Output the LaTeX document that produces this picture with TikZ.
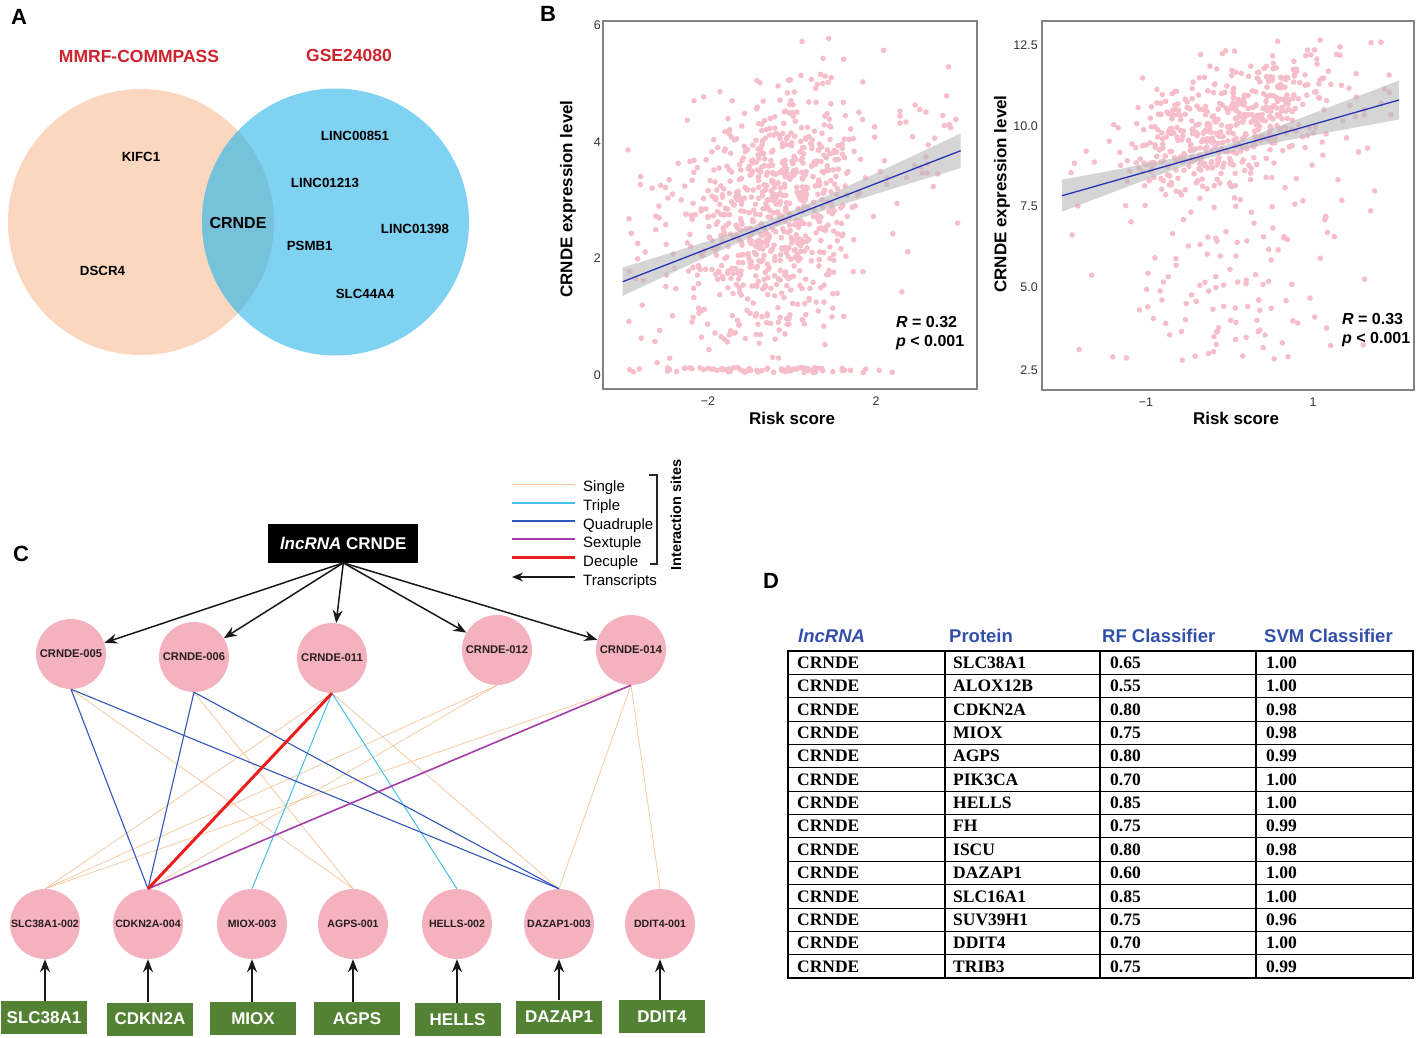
\documentclass[tikz,border=0pt]{standalone}
\usepackage{fontspec}
\setmainfont{Liberation Sans}
\newfontfamily\tnr{Liberation Serif}
\usetikzlibrary{arrows.meta}
\newcommand\myfs[1]{\fontsize{#1}{#1}\selectfont}
\definecolor{peach}{RGB}{250,215,190}
\definecolor{vblue}{RGB}{128,210,242}
\definecolor{vover}{RGB}{118,194,218}
\definecolor{vred}{RGB}{205,35,45}
\definecolor{dotpink}{RGB}{246,190,203}
\definecolor{nodepink}{RGB}{244,177,190}
\definecolor{gframe}{RGB}{130,130,130}
\definecolor{bandgray}{RGB}{185,185,185}
\definecolor{regblue}{RGB}{40,50,180}
\definecolor{eorange}{RGB}{246,196,152}
\definecolor{eblue}{RGB}{50,85,185}
\definecolor{ecyan}{RGB}{70,190,235}
\definecolor{epurple}{RGB}{165,60,170}
\definecolor{ered}{RGB}{235,30,30}
\definecolor{ggreen}{RGB}{84,130,53}
\definecolor{hblue}{RGB}{50,80,170}
\definecolor{ntext}{RGB}{40,30,30}
\tikzset{
  panel/.style={font=\myfs{22}\bfseries},
  vlab/.style={font=\myfs{13.3}\bfseries},
  vhead/.style={font=\myfs{17.5}\bfseries, text=vred},
  tnode/.style={circle, fill=nodepink, minimum size=70pt, inner sep=0pt, font=\myfs{11.2}\bfseries, text=ntext},
  bnode/.style={tnode, font=\myfs{10.6}\bfseries},
  gbox/.style={fill=ggreen, text=white, minimum width=86pt, minimum height=33pt, inner sep=0pt, font=\myfs{17}\bfseries},
  tarrow/.style={-{Stealth[length=13pt,width=10pt]}, line width=1.5pt, black!90},
  lnkone/.style={eorange, line width=0.7pt},
  lnkthree/.style={ecyan, line width=1pt},
  lnkfour/.style={eblue, line width=1.1pt},
  lnksix/.style={epurple, line width=1.6pt},
  lnkten/.style={ered, line width=3pt},
  legtxt/.style={anchor=west, font=\myfs{15}, inner sep=0pt},
  tick/.style={font=\myfs{12.5}, text=black!80, inner sep=0pt},
  axlab/.style={font=\myfs{17}\bfseries},
  stat/.style={anchor=west, font=\myfs{16}\bfseries, inner sep=0pt},
  frame/.style={gframe, line width=2.5pt},
  hdr/.style={anchor=west, font=\myfs{18.5}\bfseries, text=hblue, inner sep=0pt},
  cellt/.style={anchor=west, font=\tnr\myfs{17.5}\bfseries, inner sep=0pt},
}
\begin{document}
\begin{tikzpicture}[x=1pt,y=-1pt]
\useasboundingbox (0,0) rectangle (1417,1037);

% ================= Panel A =================
\node[panel] (pA) at (19,17) {A};
\fill[peach] (141,222) circle[radius=133pt];
\fill[vblue] (335.5,222) circle[radius=133.5pt];
\begin{scope}
  \clip (141,222) circle[radius=133pt];
  \fill[vover] (335.5,222) circle[radius=133.5pt];
\end{scope}
\node[vhead] (hmm) at (139,56) {MMRF-COMMPASS};
\node[vhead] (hgse) at (349,55) {GSE24080};
\node[vlab] (vk) at (141,157) {KIFC1};
\node[vlab] (vd) at (102.5,271) {DSCR4};
\node[font=\myfs{16}\bfseries] (vc) at (238,223) {CRNDE};
\node[vlab] (v851) at (355,136) {LINC00851};
\node[vlab] (v1213) at (325,183) {LINC01213};
\node[vlab] (v1398) at (415,229) {LINC01398};
\node[vlab] (vps) at (309.7,246) {PSMB1};
\node[vlab] (vslc) at (365,294) {SLC44A4};

% ================= Panel B left =================
\node[panel] (pB) at (548,14) {B};
\pgfmathsetseed{20}
\begin{scope}
  \clip (604.5,22.5) rectangle (975.5,387.5);
  \foreach \i in {1,...,850}{
    \pgfmathsetmacro\myr{rnd}
    \ifdim\myr pt<0.86pt
      \pgfmathsetmacro\mpx{772+42*(rand+rand+rand)}
    \else
      \pgfmathsetmacro\mpx{622+340*rnd}
    \fi
    \pgfmathsetmacro\mpy{275-0.3876*(\mpx-622.7)+60*(rand+rand+rand)}
    \ifdim\mpy pt>368pt \pgfmathsetmacro\mpy{370+2.5*rand}\fi
    \ifdim\mpy pt<38pt \pgfmathsetmacro\mpy{38+8*rnd}\fi
    \fill[dotpink] (\mpx,\mpy) circle[radius=2.8pt];
  }
  \foreach \i in {1,...,80}{
    \pgfmathsetmacro\mpx{770+48*(rand+rand+rand)}
    \pgfmathsetmacro\mpy{370+2.5*rand}
    \fill[dotpink] (\mpx,\mpy) circle[radius=2.8pt];
  }
  \fill[bandgray, opacity=0.6]
    plot[domain=622.7:960.7, samples=41] (\x,{281.7-0.3876*(\x-622.7)-sqrt(25+78*((\x-773)/100)^2)})
    -- plot[domain=960.7:622.7, samples=41] (\x,{281.7-0.3876*(\x-622.7)+sqrt(25+78*((\x-773)/100)^2)})
    -- cycle;
  \draw[regblue, line width=1.3pt] (622.7,281.7) -- (960.7,150.7);
\end{scope}
\draw[frame] (603,21) rectangle (977,389);
\node[tick, anchor=east] (ly6) at (601,25) {6};
\node[tick, anchor=east] (ly4) at (601,142) {4};
\node[tick, anchor=east] (ly2) at (601,258) {2};
\node[tick, anchor=east] (ly0) at (601,375) {0};
\node[tick] (lxm2) at (708,401) {−2};
\node[tick] (lx2) at (876,401) {2};
\node[axlab] (lxl) at (792,418) {Risk score};
\node[axlab, rotate=90] (lyl) at (568,199) {CRNDE expression level};
\node[stat] (lR) at (896,322) {\textit{R} = 0.32};
\node[stat] (lP) at (896,343) {\textit{p} < 0.001};

% ================= Panel B right =================
\begin{scope}
  \clip (1043.5,22.5) rectangle (1412.5,388.5);
  \foreach \i in {1,...,650}{
    \pgfmathsetmacro\myr{rnd}
    \ifdim\myr pt<0.86pt
      \pgfmathsetmacro\mpx{1235+52*(rand+rand+rand)}
    \else
      \pgfmathsetmacro\mpx{1062+340*rnd}
    \fi
    \pgfmathsetmacro\myr{rnd}
    \ifdim\myr pt<0.8pt
      \pgfmathsetmacro\mpy{195.7-0.284*(\mpx-1062)-20+30*(rand+rand+rand)}
    \else
      \pgfmathsetmacro\mpy{160+205*rnd}
    \fi
    \ifdim\mpy pt<40pt \pgfmathsetmacro\mpy{40+8*rnd}\fi
    \fill[dotpink] (\mpx,\mpy) circle[radius=2.8pt];
  }
  \fill[bandgray, opacity=0.6]
    plot[domain=1062:1399, samples=41] (\x,{195.7-0.284*(\x-1062)-sqrt(16+105*((\x-1213)/100)^2)})
    -- plot[domain=1399:1062, samples=41] (\x,{195.7-0.284*(\x-1062)+sqrt(16+105*((\x-1213)/100)^2)})
    -- cycle;
  \draw[regblue, line width=1.3pt] (1062,195.7) -- (1399,100);
\end{scope}
\draw[frame] (1042,21) rectangle (1414,390);
\node[tick, anchor=east] (ry125) at (1038,45) {12.5};
\node[tick, anchor=east] (ry100) at (1038,126) {10.0};
\node[tick, anchor=east] (ry75) at (1038,206) {7.5};
\node[tick, anchor=east] (ry50) at (1038,287) {5.0};
\node[tick, anchor=east] (ry25) at (1038,370) {2.5};
\node[tick] (rxm1) at (1146,402) {−1};
\node[tick] (rx1) at (1313,402) {1};
\node[axlab] (rxl) at (1236,418) {Risk score};
\node[axlab, rotate=90] (ryl) at (1002,194) {CRNDE expression level};
\node[stat] (rR) at (1342,319) {\textit{R} = 0.33};
\node[stat] (rP) at (1342,340) {\textit{p} < 0.001};

% ================= Panel C =================
\node[panel] (pC) at (21,554) {C};
\node[fill=black, text=white, minimum width=150pt, minimum height=38.7pt, inner sep=0pt,
      font=\myfs{17}\bfseries] (box) at (343.3,543.3) {\textit{lncRNA} CRNDE};

\node[tnode] (t005) at (71,654) {CRNDE-005};
\node[tnode] (t006) at (194,657) {CRNDE-006};
\node[tnode] (t011) at (332,658) {CRNDE-011};
\node[tnode] (t012) at (497,650) {CRNDE-012};
\node[tnode] (t014) at (631,650) {CRNDE-014};

\node[bnode] (b1) at (45,924) {SLC38A1-002};
\node[bnode] (b2) at (148,924) {CDKN2A-004};
\node[bnode] (b3) at (252,924) {MIOX-003};
\node[bnode] (b4) at (353,924) {AGPS-001};
\node[bnode] (b5) at (457,924) {HELLS-002};
\node[bnode] (b6) at (559,924) {DAZAP1-003};
\node[bnode] (b7) at (660,924) {DDIT4-001};

\node[gbox] (g1) at (44,1017.5) {SLC38A1};
\node[gbox] (g2) at (150,1019) {CDKN2A};
\node[gbox] (g3) at (253,1018.5) {MIOX};
\node[gbox] (g4) at (357,1018.5) {AGPS};
\node[gbox] (g5) at (457.5,1019.5) {HELLS};
\node[gbox] (g6) at (559,1017) {DAZAP1};
\node[gbox] (g7) at (662,1016.5) {DDIT4};

\foreach \t in {t005,t006,t011,t012,t014}
  \draw[tarrow] (box.south) -- (\t);
\foreach \k in {1,...,7}
  \draw[tarrow] (g\k.north -| b\k.south) -- (b\k.south);

% interaction edges
\draw[lnkone] (t005.south) -- (b4.north);
\draw[lnkone] (t006.south) -- (b4.north);
\draw[lnkone] (t011.south) -- (b1.north);
\draw[lnkone] (t011.south) -- (b6.north);
\draw[lnkone] (t012.south) -- (b1.north);
\draw[lnkone] (t012.south) -- (b2.north);
\draw[lnkone] (t014.south) -- (b1.north);
\draw[lnkone] (t014.south) -- (b6.north);
\draw[lnkone] (t014.south) -- (b7.north);
\draw[lnkthree] (t011.south) -- (b3.north);
\draw[lnkthree] (t011.south) -- (b5.north);
\draw[lnkfour] (t005.south) -- (b2.north);
\draw[lnkfour] (t005.south) -- (b6.north);
\draw[lnkfour] (t006.south) -- (b2.north);
\draw[lnkfour] (t006.south) -- (b6.north);
\draw[lnksix] (t014.south) -- (b2.north);
\draw[lnkten] (t011.south) -- (b2.north);

% legend
\coordinate (l1a) at (512,484); \coordinate (l1b) at (575,484);
\coordinate (l2a) at (512,503); \coordinate (l2b) at (575,503);
\coordinate (l3a) at (512,521); \coordinate (l3b) at (575,521);
\coordinate (l4a) at (512,539); \coordinate (l4b) at (575,539);
\coordinate (l5a) at (512,557); \coordinate (l5b) at (575,557);
\coordinate (l6a) at (512,577); \coordinate (l6b) at (575,577);
\draw[lnkone, line width=1pt] (l1a) -- (l1b);
\draw[lnkthree, line width=1.2pt] (l2a) -- (l2b);
\draw[lnkfour, line width=1.3pt] (l3a) -- (l3b);
\draw[lnksix] (l4a) -- (l4b);
\draw[lnkten] (l5a) -- (l5b);
\draw[-{Stealth[length=11pt,width=9pt]}, line width=1.4pt, black!90] (l6b) -- (l6a);
\node[legtxt] (ls1) at (583,488) {Single};
\node[legtxt] (ls2) at (583,507) {Triple};
\node[legtxt] (ls3) at (583,526) {Quadruple};
\node[legtxt] (ls4) at (583,544) {Sextuple};
\node[legtxt] (ls5) at (583,563) {Decuple};
\node[legtxt] (ls6) at (583,582) {Transcripts};
\coordinate (bk1) at (649,475); \coordinate (bk2) at (657,475);
\coordinate (bk3) at (657,564); \coordinate (bk4) at (650,564);
\draw[line width=1.2pt, black!85] (bk1) -- (bk2) -- (bk3) -- (bk4);
\node[rotate=90, font=\myfs{14.5}\bfseries] (isites) at (676,515) {Interaction sites};

% ================= Panel D =================
\node[panel] (pD) at (771,581) {D};
\node[hdr] (h1) at (798,636) {\textit{lncRNA}};
\node[hdr] (h2) at (949,636) {Protein};
\node[hdr] (h3) at (1102,636) {RF Classifier};
\node[hdr] (h4) at (1264,636) {SVM Classifier};
\foreach \k in {1,...,13}
  \draw[line width=0.9pt] (788,{651+23.36*\k}) -- (1413,{651+23.36*\k});
\foreach \cx in {945,1100,1256}
  \draw[line width=1.6pt] (\cx,651) -- (\cx,978);
\draw[line width=1.8pt] (788,651) rectangle (1413,978);
\foreach \p/\rf/\svm [count=\i from 0] in {SLC38A1/0.65/1.00, ALOX12B/0.55/1.00, CDKN2A/0.80/0.98,
   MIOX/0.75/0.98, AGPS/0.80/0.99, PIK3CA/0.70/1.00, HELLS/0.85/1.00, FH/0.75/0.99,
   ISCU/0.80/0.98, DAZAP1/0.60/1.00, SLC16A1/0.85/1.00, SUV39H1/0.75/0.96,
   DDIT4/0.70/1.00, TRIB3/0.75/0.99}{
  \node[cellt] (ca\i) at (797,{662.7+23.36*\i}) {CRNDE};
  \node[cellt] (cb\i) at (953,{662.7+23.36*\i}) {\p};
  \node[cellt] (cc\i) at (1110,{662.7+23.36*\i}) {\rf};
  \node[cellt] (cd\i) at (1266,{662.7+23.36*\i}) {\svm};
}
\end{tikzpicture}
\end{document}
